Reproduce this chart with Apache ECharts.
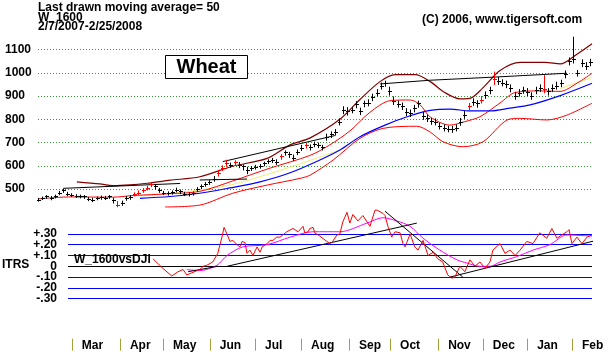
<!DOCTYPE html>
<html>
<head>
<meta charset="utf-8">
<script src="https://cdn.jsdelivr.net/npm/echarts@6/dist/echarts.min.js"></script>
<style>
  html, body { margin: 0; padding: 0; background: #fff; }
  #chart { width: 613px; height: 352px; }
</style>
</head>
<body>
<div id="chart"></div>
<script>
// x unit = bar number (one bar ~ two trading days), 2/7/2007 .. 2/25/2008
const monthNames = ['Mar', 'Apr', 'May', 'Jun', 'Jul', 'Aug', 'Sep', 'Oct', 'Nov', 'Dec', 'Jan', 'Feb']
const monthStarts = [8.1, 19.6, 29.9, 41.1, 51.9, 62.9, 74.4, 84.2, 95.7, 106.4, 117.0, 127.7]
// ITRS tick labels, split in two sets so that none gets dropped as overlapping
const itrsTicksA = [-0.3, -0.1, 0.1, 0.3]
const itrsTicksB = [-0.2, 0, 0.2]

// wheat, cents per bushel
const priceClose = [
  455, 462, 468, 462, 470, 485, 495, 480, 476, 472,
  470, 468, 458, 455, 462, 465, 463, 468, 455, 432,
  440, 462, 465, 478, 485, 495, 505, 520, 512, 495,
  485, 482, 486, 498, 490, 480, 478, 482, 500, 512,
  522, 530, 545, 570, 592, 612, 605, 615, 605, 598,
  580, 590, 596, 600, 610, 620, 625, 618, 640, 658,
  650, 635, 660, 678, 688, 680, 695, 690, 680, 725,
  735, 745, 790, 840, 835, 842, 865, 835, 868, 872,
  895, 915, 945, 956, 922, 880, 866, 858, 832, 827,
  848, 868, 815, 806, 792, 790, 772, 764, 760, 758,
  764, 790, 820, 855, 875, 868, 885, 905, 926, 975,
  965, 958, 952, 935, 902, 915, 926, 918, 900, 925,
  935, 930, 920, 935, 945, 955, 995, 1050, 1060, 1000,
  1042, 1030, 1045
]
const priceHigh = [
  462, 468, 474, 470, 476, 492, 500, 488, 482, 478,
  476, 474, 466, 462, 468, 472, 470, 474, 462, 448,
  450, 470, 474, 486, 494, 504, 514, 528, 522, 505,
  492, 490, 494, 506, 498, 488, 486, 490, 508, 520,
  530, 538, 556, 582, 602, 626, 614, 624, 616, 606,
  596, 598, 604, 608, 618, 628, 634, 628, 650, 666,
  660, 648, 670, 690, 698, 692, 704, 700, 690, 738,
  748, 758, 804, 856, 852, 854, 878, 850, 880, 886,
  910, 930, 958, 966, 940, 898, 880, 872, 848, 842,
  862, 880, 832, 820, 806, 804, 786, 778, 772, 772,
  778, 806, 836, 870, 890, 882, 900, 920, 940, 1005,
  982, 972, 966, 950, 918, 930, 940, 934, 916, 940,
  950, 990, 934, 950, 962, 970, 1010, 1066, 1155, 1012,
  1058, 1046, 1060
]
const priceLow = [
  448, 455, 460, 454, 462, 476, 486, 472, 468, 464,
  462, 460, 450, 446, 454, 456, 455, 460, 440, 424,
  430, 452, 456, 470, 476, 486, 496, 510, 500, 486,
  476, 474, 478, 488, 480, 472, 470, 474, 490, 502,
  512, 520, 534, 556, 580, 598, 594, 604, 592, 582,
  566, 580, 586, 590, 600, 610, 614, 606, 628, 646,
  636, 622, 648, 666, 676, 668, 682, 678, 668, 710,
  722, 732, 776, 824, 818, 828, 850, 820, 854, 858,
  880, 900, 930, 942, 904, 864, 852, 842, 816, 812,
  832, 852, 800, 790, 778, 776, 758, 750, 746, 744,
  750, 774, 804, 840, 860, 852, 870, 890, 910, 950,
  950, 944, 936, 918, 886, 900, 912, 902, 886, 910,
  920, 914, 904, 920, 930, 940, 978, 1034, 1042, 986,
  1026, 1014, 1030
]
const redBars = [19, 23, 24, 25, 26, 27, 43, 44, 45, 47, 58, 64, 103, 106, 109, 121]

// bands and averages as [bar, value]
const upperBand = [[9.3, 531], [14.8, 522], [17.9, 515], [22.0, 518], [26.1, 525], [31.6, 538], [38.7, 553],
  [46.6, 598], [54.8, 632], [60.3, 690], [65.1, 720], [72.2, 800], [77.0, 885], [81.8, 962], [85.4, 992],
  [90.2, 992], [93.8, 962], [97.3, 915], [100.9, 888], [103.3, 890], [106.4, 935], [110.5, 1010],
  [115.3, 1045], [121.3, 1045], [124.9, 1038], [128.9, 1080], [132.5, 1125]]
const middleBand = [[0, 458], [7.7, 466], [17.9, 465], [22.7, 472], [31.6, 480], [38.7, 490], [46.6, 535],
  [55.5, 590], [65.1, 645], [69.8, 690], [74.6, 750], [79.4, 830], [84.2, 880], [89.0, 883], [91.4, 862],
  [93.8, 810], [98.5, 775], [102.1, 790], [105.7, 811], [110.5, 870], [114.1, 915], [120.1, 922],
  [124.9, 920], [128.9, 955], [132.5, 998]]
const lowerBand = [[30.4, 423], [38.7, 431], [46.6, 482], [54.8, 517], [62.7, 546], [65.1, 560], [70.6, 625],
  [77.0, 718], [82.5, 761], [90.6, 770], [93.8, 745], [96.9, 703], [101.6, 682], [106.4, 703], [112.2, 797],
  [115.3, 804], [121.7, 797], [126.5, 818], [132.5, 869]]
const ma50 = [[24.4, 460], [31.6, 468], [38.7, 482], [45.9, 505], [53.1, 531], [60.3, 570], [67.4, 625],
  [72.2, 668], [77.0, 725], [83.0, 775], [89.0, 815], [93.8, 838], [98.5, 844], [103.3, 836], [108.1, 836],
  [112.9, 848], [117.7, 862], [124.9, 902], [132.5, 955]]
const yellowLines = [
  [[24.4, 470], [45.9, 517], [72.2, 668]],
  [[124.9, 932], [132.5, 980]]
]
const priceTrendLines = [
  [[6.0, 503], [34.0, 524]],
  [[38.7, 539], [50.0, 543]],
  [[44.2, 618], [71.0, 730]],
  [[81.8, 952], [93.8, 968], [109.8, 982], [126.5, 998]]
]

// ITRS of wheat vs DJI, as [bar, value]
const itrs = [[27.5, .07], [29.9, -.02], [32.0, -.09], [33.5, -.05], [34.7, -.03], [35.6, -.08], [36.8, -.06],
  [38.7, -.03], [39.5, 0], [40.4, .01], [41.8, .04], [43.0, .12], [44.0, .27], [44.5, .36], [45.4, .28],
  [45.9, .23], [46.6, .24], [47.6, .20], [48.3, .18], [48.8, .23], [49.5, .22], [50.0, .12], [50.7, .15],
  [51.4, .10], [52.4, .18], [53.1, .13], [53.6, .18], [54.8, .21], [55.5, .24], [56.2, .24], [57.1, .27],
  [57.9, .27], [59.5, .32], [61.0, .35], [62.2, .32], [63.4, .37], [63.8, .31], [64.6, .32], [65.0, .35],
  [65.8, .36], [66.2, .31], [67.4, .28], [69.1, .23], [69.8, .21], [70.3, .22], [71.5, .29], [72.2, .30],
  [72.9, .41], [73.9, .50], [74.6, .40], [75.3, .48], [76.5, .42], [77.7, .47], [79.4, .37], [80.6, .52],
  [81.1, .52], [82.5, .49], [83.0, .47], [83.7, .37], [84.6, .27], [85.4, .32], [85.8, .33], [86.6, .31],
  [87.3, .21], [87.8, .18], [89.0, .30], [90.1, .18], [90.9, .15], [92.1, .24], [93.3, .10], [94.5, .13],
  [95.6, .07], [96.8, .04], [98.0, -.08], [99.0, -.11], [99.7, -.10], [100.9, 0], [102.1, -.05], [103.3, .06],
  [104.5, 0], [105.7, .04], [106.9, -.02], [108.1, .04], [108.8, .15], [110.5, .21], [111.7, .12],
  [112.9, .15], [114.1, .10], [115.3, .15], [116.9, .23], [118.4, .21], [120.0, .31], [121.7, .26],
  [122.9, .35], [124.1, .26], [125.3, .29], [126.5, .32], [127.0, .34], [127.7, .21], [128.9, .27],
  [130.1, .21], [131.3, .27], [132.5, .29]]
const itrsMa = [[35.6, -.03], [38.7, -.04], [42.8, .01], [45.2, .10], [49.0, .18], [54.8, .20], [60.3, .27],
  [65.8, .32], [72.2, .32], [78.7, .40], [82.5, .45], [85.8, .42], [89.0, .37], [92.1, .26], [96.1, .15],
  [100.2, .06], [102.6, .03], [105.7, 0], [108.1, 0], [110.5, .04], [114.5, .09], [118.4, .15], [122.4, .20],
  [126.5, .29], [132.5, .28]]
const itrsTrendLines = [
  [[35.9, -.05], [43.0, 0]],
  [[45.2, 0], [90.6, .40]],
  [[83.0, .51], [101.6, -.10]],
  [[98.5, -.10], [132.5, .23]]
]
const itrsTrendExt = [[132.5, .23], [137.3, .27]]

const FONT = '"Liberation Sans", Arial, sans-serif'
const redSet = new Set(redBars)
const bars = priceClose.map((c, i) => [i, priceHigh[i], priceLow[i], c])

const chart = echarts.init(document.getElementById('chart'))

function line(data, color, axis, extra) {
  return Object.assign({
    type: 'line',
    data,
    xAxisIndex: axis,
    yAxisIndex: axis,
    symbol: 'none',
    silent: true,
    lineStyle: { color, width: 1 },
    z: 3
  }, extra || {})
}

function renderBar(params, api) {
  const i = api.value(0)
  const pHi = api.coord([i, api.value(1)])
  const pLo = api.coord([i, api.value(2)])
  const pCl = api.coord([i, api.value(3)])
  const color = redSet.has(params.dataIndex) ? '#ff0000' : '#000000'
  const x = Math.round(pHi[0]) + 0.5
  const yc = Math.round(pCl[1]) + 0.5
  const st = { stroke: color, lineWidth: 1 }
  return {
    type: 'group',
    children: [
      { type: 'line', shape: { x1: x, y1: pHi[1], x2: x, y2: pLo[1] + 0.5 }, style: st },
      { type: 'line', shape: { x1: x - 1.5, y1: yc, x2: x + 2.5, y2: yc }, style: st }
    ]
  }
}

function itrsLabel(v) {
  const n = Math.round(v * 100)
  if (n === 0) return '0'
  return (n > 0 ? '+' : '-') + '.' + String(Math.abs(n)).padStart(2, '0')
}

const labelText = { color: '#000', fontWeight: 'bold', fontSize: 12, fontFamily: FONT }
const blue = '#0000ff'

function itrsAxis(ticks, withLines) {
  return {
    type: 'value',
    gridIndex: 1,
    position: 'left',
    min: -0.3,
    max: 0.3,
    interval: 0.1,
    axisLine: { show: false, onZero: false },
    axisTick: { show: false },
    axisLabel: Object.assign({
      customValues: ticks,
      formatter: itrsLabel,
      margin: 11,
      showMinLabel: true,
      showMaxLabel: true
    }, labelText),
    splitLine: {
      show: withLines,
      lineStyle: { color: [blue, blue, blue, '#000000', blue, blue, blue], width: 1 }
    }
  }
}

const series = [
  line(upperBand, '#800000', 0, { smooth: 0.3, lineStyle: { color: '#800000', width: 1.2 } }),
  line(middleBand, '#ff0000', 0, { smooth: 0.3 }),
  line(lowerBand, '#ff0000', 0, { smooth: 0.3 }),
  line(ma50, '#0000ff', 0, { smooth: 0.3, lineStyle: { color: '#0000ff', width: 1.2 } })
]
yellowLines.forEach((seg) => series.push(line(seg, '#eeee70', 0, { smooth: 0.3, z: 2 })))
priceTrendLines.forEach((seg) => series.push(line(seg, '#000000', 0)))
series.push({
  type: 'custom',
  xAxisIndex: 0,
  yAxisIndex: 0,
  renderItem: renderBar,
  encode: { x: 0, y: [1, 2, 3] },
  data: bars,
  silent: true,
  z: 5
})
series.push(line(itrsMa, '#ff00ff', 1, { smooth: 0.3, clip: false }))
itrsTrendLines.forEach((seg) => series.push(line(seg, '#000000', 1, { clip: false })))
series.push(line(itrsTrendExt, '#000000', 1, { clip: false, lineStyle: { color: '#000', width: 1, type: [2, 2] } }))
series.push(line(itrs, '#ff0000', 1, { clip: false, z: 4 }))

const option = {
  animation: false,
  backgroundColor: '#ffffff',
  grid: [
    { left: 38, top: 37.9, width: 554, height: 174.4 },
    { left: 68, top: 233.9, width: 524, height: 64.8 }
  ],
  xAxis: [
    { type: 'value', gridIndex: 0, min: 0, max: 132.5, show: false },
    {
      type: 'value',
      gridIndex: 1,
      min: 7.18,
      max: 132.5,
      position: 'bottom',
      offset: 40,
      axisLine: { show: false, onZero: false },
      splitLine: { show: false },
      axisTick: { show: true, customValues: monthStarts, length: 12, lineStyle: { color: '#a3a33c', width: 1 } },
      axisLabel: Object.assign({
        customValues: monthStarts,
        formatter: (v) => monthNames[monthStarts.indexOf(v)] || '',
        align: 'left',
        padding: [0, 0, 0, 10],
        margin: 1
      }, labelText)
    }
  ],
  yAxis: [
    {
      type: 'value',
      gridIndex: 0,
      min: 400,
      max: 1150,
      interval: 100,
      axisLine: { show: false, onZero: false },
      axisTick: { show: false },
      axisLabel: Object.assign({
        formatter: (v) => (v >= 500 && v <= 1100 ? String(v) : ''),
        align: 'left',
        margin: 33
      }, labelText),
      splitLine: {
        show: true,
        showMinLine: false,
        showMaxLine: false,
        lineStyle: { color: '#339933', width: 1, type: [1, 2] }
      }
    },
    itrsAxis(itrsTicksA, true),
    itrsAxis(itrsTicksB, false)
  ],
  graphic: [
    { type: 'text', left: 38, top: 2, style: { text: 'Last drawn moving average= 50', font: 'bold 12px ' + FONT, fill: '#000' } },
    { type: 'text', left: 38, top: 12, style: { text: 'W_1600', font: 'bold 12px ' + FONT, fill: '#000' } },
    { type: 'text', left: 38, top: 21, style: { text: '2/7/2007-2/25/2008', font: 'bold 12px ' + FONT, fill: '#000' } },
    { type: 'text', left: 422, top: 14, style: { text: '(C) 2006, www.tigersoft.com', font: 'bold 12px ' + FONT, fill: '#000' } },
    { type: 'rect', shape: { x: 165.5, y: 55.5, width: 82, height: 23 }, style: { fill: '#fff', stroke: '#000', lineWidth: 1 }, z: 10 },
    { type: 'text', x: 206.5, y: 67, style: { text: 'Wheat', font: 'bold 20px ' + FONT, fill: '#000', align: 'center', verticalAlign: 'middle' }, z: 11 },
    { type: 'text', left: 2, top: 259, style: { text: 'ITRS', font: 'bold 12px ' + FONT, fill: '#000' } },
    { type: 'text', left: 74, top: 254, style: { text: 'W_1600vsDJI', font: 'bold 12px ' + FONT, fill: '#000' }, z: 10 }
  ],
  series
}

chart.setOption(option)
</script>
</body>
</html>
